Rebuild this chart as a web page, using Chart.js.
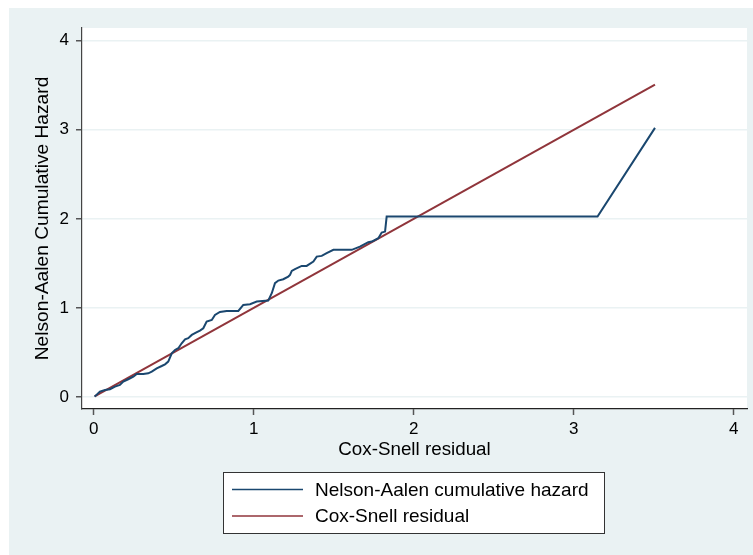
<!DOCTYPE html>
<html>
<head>
<meta charset="utf-8">
<script src="https://cdn.jsdelivr.net/npm/chart.js@4.4.1/dist/chart.umd.min.js"></script>
<style>
  html, body { margin: 0; padding: 0; background: #ffffff; }
  #wrap { position: relative; width: 753px; height: 555px; }
</style>
</head>
<body>
<div id="wrap"><canvas id="c" width="753" height="555"></canvas></div>
<script>
// Nelson-Aalen cumulative hazard (x = Cox-Snell residual, y = cumulative hazard)
const naX = [0.006, 0.039, 0.071, 0.102, 0.133, 0.164, 0.185, 0.216, 0.248, 0.269, 0.310, 0.341, 0.363, 0.394, 0.425, 0.446, 0.466, 0.488, 0.508, 0.529, 0.550, 0.571, 0.591, 0.613, 0.639, 0.664, 0.685, 0.706, 0.738, 0.758, 0.789, 0.831, 0.904, 0.935, 0.977, 1.019, 1.091, 1.113, 1.133, 1.154, 1.185, 1.216, 1.227, 1.238, 1.258, 1.300, 1.331, 1.373, 1.394, 1.425, 1.456, 1.498, 1.613, 1.664, 1.716, 1.738, 1.779, 1.800, 1.821, 1.831, 3.149, 3.508];
const naY = [0.004, 0.060, 0.079, 0.087, 0.116, 0.135, 0.172, 0.199, 0.228, 0.258, 0.258, 0.266, 0.284, 0.322, 0.348, 0.367, 0.397, 0.491, 0.528, 0.547, 0.603, 0.648, 0.660, 0.697, 0.722, 0.745, 0.772, 0.846, 0.865, 0.921, 0.955, 0.966, 0.966, 1.034, 1.042, 1.071, 1.082, 1.165, 1.278, 1.307, 1.322, 1.352, 1.371, 1.416, 1.435, 1.472, 1.472, 1.520, 1.576, 1.584, 1.615, 1.652, 1.652, 1.689, 1.738, 1.745, 1.783, 1.846, 1.857, 2.026, 2.026, 3.022];
// Cox-Snell reference line (y = x)
const csX = [0.006, 3.508];
const csY = [0.006, 3.508];
const xTicks = [0, 1, 2, 3, 4];
const yTicks = [0, 1, 2, 3, 4];
const seriesLabels = ['Nelson-Aalen cumulative hazard', 'Cox-Snell residual'];
const xTitle = 'Cox-Snell residual';
const yTitle = 'Nelson-Aalen Cumulative Hazard';

const FONT = '"Liberation Sans", Arial, Helvetica, sans-serif';
const BG = '#EAF2F3';
const BLUE = '#1A476F';
const RED = '#90353B';

const toPts = (xs, ys) => xs.map((x, i) => ({x: x, y: ys[i]}));

const bgPlugin = {
  id: 'bg',
  beforeDraw(chart) {
    const ctx = chart.ctx, a = chart.chartArea;
    ctx.save();
    ctx.fillStyle = '#ffffff';
    ctx.fillRect(0, 0, chart.width, chart.height);
    ctx.fillStyle = BG;
    ctx.fillRect(9, 8, chart.width - 9, chart.height - 8);
    ctx.fillStyle = '#ffffff';
    ctx.fillRect(a.left, a.top, a.right - a.left, a.bottom - a.top);
    ctx.restore();
  }
};

const legendPlugin = {
  id: 'boxLegend',
  afterDraw(chart) {
    const ctx = chart.ctx;
    const bx = 223.5, by = 472.5, bw = 381, bh = 61;
    ctx.save();
    ctx.fillStyle = '#ffffff';
    ctx.fillRect(bx, by, bw, bh);
    ctx.strokeStyle = '#333333';
    ctx.lineWidth = 1;
    ctx.strokeRect(bx, by, bw, bh);
    const rows = [489.5, 516];
    chart.data.datasets.forEach((ds, i) => {
      ctx.strokeStyle = ds.borderColor;
      ctx.lineWidth = 1.6;
      ctx.beginPath();
      ctx.moveTo(232, rows[i]);
      ctx.lineTo(303, rows[i]);
      ctx.stroke();
      ctx.fillStyle = '#000000';
      ctx.font = '19px ' + FONT;
      ctx.textBaseline = 'middle';
      ctx.textAlign = 'left';
      ctx.fillText(ds.label, 315, rows[i] + 1);
    });
    ctx.restore();
  }
};

new Chart(document.getElementById('c'), {
  type: 'scatter',
  data: {
    datasets: [
      { label: seriesLabels[0], data: toPts(naX, naY), showLine: true, borderColor: BLUE, backgroundColor: BLUE, borderWidth: 2, pointRadius: 0, tension: 0 },
      { label: seriesLabels[1], data: toPts(csX, csY), showLine: true, borderColor: RED, backgroundColor: RED, borderWidth: 2, pointRadius: 0, tension: 0 }
    ]
  },
  options: {
    responsive: false,
    animation: false,
    devicePixelRatio: 1,
    layout: { padding: { left: 0, top: 28, right: 6, bottom: 86 } },
    plugins: { legend: { display: false }, tooltip: { enabled: false } },
    scales: {
      x: {
        type: 'linear',
        min: -0.073, max: 4.083,
        afterFit(s) { s.height = 60; },
        afterBuildTicks(s) { s.ticks = xTicks.map(v => ({value: v})); },
        ticks: { color: '#000', font: { family: FONT, size: 17 }, padding: 4, callback: v => String(v) },
        grid: { display: true, drawOnChartArea: false, tickLength: 6, tickColor: '#555555', tickWidth: 1.5 },
        border: { display: true, color: '#222222', width: 1.2 },
        title: { display: true, text: xTitle, color: '#000', font: { family: FONT, size: 18.8 }, padding: { top: 0, bottom: 8 } }
      },
      y: {
        type: 'linear',
        min: -0.135, max: 4.143,
        afterFit(s) { s.width = 82; },
        afterBuildTicks(s) { s.ticks = yTicks.map(v => ({value: v})); },
        ticks: { color: '#000', font: { family: FONT, size: 17 }, padding: 7, callback: v => String(v) },
        grid: { display: true, color: BG, lineWidth: 1.5, tickLength: 6, tickColor: '#555555', tickWidth: 1.5 },
        border: { display: true, color: '#444444', width: 1.2 },
        title: { display: true, text: yTitle, color: '#000', font: { family: FONT, size: 19.2 }, padding: { top: 31, bottom: 0 } }
      }
    }
  },
  plugins: [bgPlugin, legendPlugin]
});
</script>
</body>
</html>
